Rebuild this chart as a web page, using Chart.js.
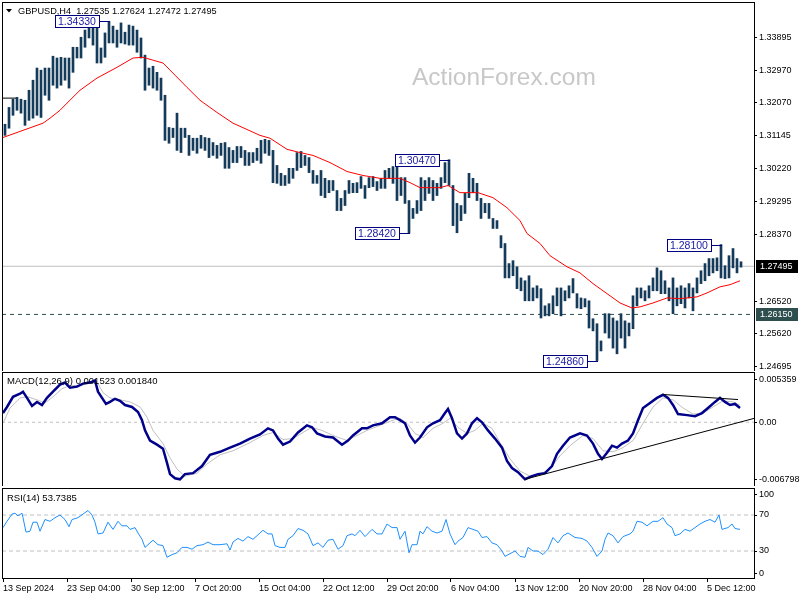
<!DOCTYPE html>
<html>
<head>
<meta charset="utf-8">
<script src="https://cdn.jsdelivr.net/npm/chart.js@4.4.1/dist/chart.umd.min.js"></script>
<style>
html, body { margin: 0; padding: 0; background: #fff; }
#wrap { position: relative; width: 800px; height: 600px; overflow: hidden; }
canvas { position: absolute; left: 0; }
</style>
</head>
<body>
<div id="wrap">
  <canvas id="main" width="800" height="371" style="top:0px"></canvas>
  <canvas id="macd" width="800" height="115" style="top:371px"></canvas>
  <canvas id="rsi" width="800" height="114" style="top:486px"></canvas>
</div>
<script>
/* GBPUSD H4 - price bars (each bar = two H4 bars), high / low */
const barHigh = [
  1.3146,1.3193,1.3216,1.3221,1.3216,1.3213,1.3241,1.3269,1.3303,1.3297,
  1.3303,1.3303,1.3336,1.3331,1.3333,1.3331,1.3331,1.3361,1.3361,1.3389,
  1.3409,1.3431,1.3429,1.3423,1.3359,1.3401,1.3433,1.3420,1.3409,1.3429,
  1.3403,1.3423,1.3420,1.3409,1.3387,1.3339,1.3303,1.3308,1.3291,1.3275,
  1.3227,1.3137,1.3135,1.3177,1.3135,1.3135,1.3115,1.3107,1.3107,1.3115,
  1.3109,1.3107,1.3095,1.3087,1.3093,1.3095,1.3081,1.3073,1.3084,1.3084,
  1.3073,1.3067,1.3067,1.3079,1.3101,1.3104,1.3101,1.3073,1.3031,1.3009,
  1.3003,1.3023,1.3023,1.3067,1.3070,1.3059,1.3053,1.3017,1.3003,1.3017,
  1.2995,1.2989,1.2989,1.2961,1.2939,1.2961,1.2989,1.2981,1.2983,1.3000,
  1.2975,1.2997,1.3000,1.2986,1.2995,1.3017,1.3023,1.3028,1.3045,1.2997,
  1.2997,1.2933,1.2911,1.2933,1.2997,1.2989,1.2997,1.2989,1.2981,1.2997,
  1.3039,1.3047,1.2975,1.2925,1.2919,1.2953,1.3009,1.2995,1.2981,1.2939,
  1.2925,1.2925,1.2883,1.2877,1.2835,1.2813,1.2757,1.2765,1.2748,1.2717,
  1.2709,1.2723,1.2689,1.2695,1.2687,1.2639,1.2645,1.2667,1.2689,1.2689,
  1.2681,1.2695,1.2715,1.2673,1.2661,1.2659,1.2653,1.2603,1.2589,1.2541,
  1.2617,1.2617,1.2605,1.2597,1.2617,1.2597,1.2591,1.2667,1.2689,1.2689,
  1.2681,1.2695,1.2717,1.2745,1.2737,1.2709,1.2689,1.2717,1.2689,1.2695,
  1.2689,1.2701,1.2689,1.2717,1.2737,1.2757,1.2771,1.2771,1.2773,1.2810,
  1.2751,1.2779,1.2799,1.2771,1.2762
];
const barLow = [
  1.3115,1.3135,1.3171,1.3185,1.3177,1.3143,1.3157,1.3163,1.3171,1.3165,
  1.3227,1.3213,1.3255,1.3247,1.3255,1.3269,1.3247,1.3291,1.3331,1.3331,
  1.3361,1.3387,1.3367,1.3317,1.3317,1.3333,1.3373,1.3373,1.3361,1.3373,
  1.3370,1.3367,1.3367,1.3347,1.3331,1.3241,1.3255,1.3247,1.3241,1.3213,
  1.3101,1.3093,1.3109,1.3073,1.3067,1.3109,1.3059,1.3073,1.3065,1.3079,
  1.3073,1.3053,1.3059,1.3051,1.3059,1.3023,1.3023,1.3039,1.3039,1.3053,
  1.3031,1.3031,1.3039,1.3045,1.3037,1.3065,1.3059,1.2983,1.2981,1.2975,
  1.2975,1.2981,1.2995,1.3017,1.3025,1.3031,1.3011,1.2981,1.2981,1.2947,
  1.2941,1.2955,1.2961,1.2905,1.2905,1.2919,1.2953,1.2955,1.2955,1.2967,
  1.2939,1.2969,1.2972,1.2961,1.2967,1.2967,1.2995,1.2981,1.2933,1.2947,
  1.2925,1.2842,1.2883,1.2897,1.2905,1.2933,1.2953,1.2933,1.2947,1.2967,
  1.2983,1.2975,1.2863,1.2843,1.2877,1.2897,1.2941,1.2955,1.2933,1.2883,
  1.2899,1.2883,1.2855,1.2855,1.2801,1.2717,1.2717,1.2723,1.2687,1.2681,
  1.2653,1.2653,1.2653,1.2661,1.2605,1.2611,1.2611,1.2617,1.2639,1.2611,
  1.2653,1.2661,1.2675,1.2633,1.2631,1.2636,1.2577,1.2569,1.2486,1.2513,
  1.2563,1.2549,1.2521,1.2505,1.2549,1.2521,1.2555,1.2575,1.2639,1.2661,
  1.2653,1.2661,1.2681,1.2681,1.2673,1.2673,1.2653,1.2617,1.2639,1.2645,
  1.2633,1.2661,1.2625,1.2675,1.2701,1.2709,1.2723,1.2731,1.2737,1.2717,
  1.2715,1.2717,1.2745,1.2731,1.2747
];

/* moving average (red) */
const maIdx = [0,8.5,20,23.5,28.5,32,38.5,47,57,65,70,75,80,86,92,98.5,107,115,128.5,133.5,
  142,148.5,155,163.5,172,180,188.5,198.5,203.5,208.5,218.5,222.5,228.5,237.5,245,252,258.5,262,
  268.5,273.5,282,288.5,295,302,308.5,314.5,318.5,325,332,338.5,347,352,358.5,363.5,368.5];
const maVal = [1.3109,1.3126,1.3149,1.3163,1.3185,1.3205,1.3241,1.3275,1.3305,1.3331,1.3333,1.3325,
  1.3317,1.3283,1.3249,1.3213,1.3179,1.3149,1.3115,1.3107,1.3076,1.3067,1.3059,1.3039,1.3014,
  1.3003,1.2995,1.2995,1.2983,1.2969,1.2969,1.2975,1.2955,1.2955,1.2941,1.2913,1.2877,1.2841,
  1.2813,1.2779,1.2748,1.2731,1.2701,1.2673,1.2647,1.2633,1.2636,1.2647,1.2661,1.2659,1.2664,
  1.2675,1.2692,1.2698,1.2709];

/* price levels and swing labels */
const lastPrice = 1.27495;
const supportLevel = 1.2615;
const oldLevel = 1.3219;
const markText = ['1.34330', '1.30470', '1.28420', '1.28100', '1.24860'];
const markIdx = [53, 223, 203, 359, 297];
const markPrice = [1.3433, 1.3047, 1.2842, 1.2810, 1.2486];
const priceTicks = [1.33895, 1.32970, 1.32070, 1.31145, 1.30220, 1.29295, 1.28370, 1.26520, 1.25620, 1.24695];
const priceTickText = ['1.33895', '1.32970', '1.32070', '1.31145', '1.30220', '1.29295', '1.28370',
  '1.26520', '1.25620', '1.24695'];

/* MACD(12,26,9) */
const macdIdx = [0,2,5,8.5,10,12,14.5,17,19.5,22,25,28.5,31,33.5,37,40,43.5,46,47.5,49.5,51.5,53.5,
  56,58.5,61,64.5,67.5,69.5,71,73.5,77,80,82,83.5,86,88.5,91,95,99.5,103.5,108.5,113.5,118.5,
  123.5,128.5,132.5,135,137.5,140,143.5,147.5,152,154.5,157,161,165,169.5,172.5,175,179.5,182,
  185,189.5,193.5,196,198.5,201,203.5,206,208.5,212,215,218.5,221,222.5,224.5,227,229.5,232,
  234.5,237,239.5,242.5,246,249.5,252,254.5,257.5,261,264.5,267.5,271,274.5,277,280,283.5,288.5,
  292,295,297.5,299.5,302,304.5,307,309.5,312.5,315,317.5,320,323.5,327,330,332.5,335,337.5,342,
  346,349.5,352.5,356,358.5,361,363.5,366,368.5];
const macdVal = [0.00098,0.00163,0.00271,0.00304,0.00326,0.00260,0.00174,0.00217,0.00184,0.00260,
  0.00326,0.00401,0.00423,0.00369,0.00380,0.00412,0.00423,0.00445,0.00326,0.00260,0.00195,0.00217,
  0.00250,0.00228,0.00184,0.00163,0.00109,0.00022,-0.00087,-0.00195,-0.00239,-0.00282,-0.00434,
  -0.00553,-0.00597,-0.00608,-0.00553,-0.00543,-0.00467,-0.00347,-0.00315,-0.00271,-0.00228,
  -0.00174,-0.00130,-0.00065,-0.00087,-0.00174,-0.00239,-0.00206,-0.00109,-0.00033,-0.00054,
  -0.00119,-0.00152,-0.00163,-0.00239,-0.00195,-0.00141,-0.00065,-0.00065,-0.00033,-0.00011,
  0.00054,0.00054,0.00022,-0.00011,-0.00141,-0.00217,-0.00163,-0.00054,-0.00011,0.00022,0.00098,
  0.00141,0.00043,-0.00119,-0.00174,-0.00119,-0.00011,0.00043,0.00000,-0.00087,-0.00174,-0.00271,
  -0.00412,-0.00488,-0.00532,-0.00608,-0.00575,-0.00553,-0.00543,-0.00467,-0.00336,-0.00250,
  -0.00163,-0.00119,-0.00141,-0.00228,-0.00336,-0.00391,-0.00326,-0.00250,-0.00271,-0.00228,
  -0.00195,-0.00119,0.00022,0.00152,0.00206,0.00260,0.00293,0.00260,0.00184,0.00087,0.00076,
  0.00065,0.00098,0.00152,0.00217,0.00260,0.00217,0.00184,0.00195,0.00152];
const signalIdx = [0,3.5,8.5,12.5,17,21,25,29.5,33.5,38.5,43.5,47.5,50,53.5,58.5,63.5,68.5,72,75,
  80,83.5,87,91,97,102,108.5,115,123.5,130,135,140,145,150,154.5,159.5,165,172,177,182,188.5,195,
  198.5,202,206,210,215,220,223.5,227.5,232,236,240,244.5,248.5,253.5,258.5,263.5,268.5,273.5,
  278.5,283.5,290,295,300,305,310,315,320,325,330,335,340,345,350,355,360,365,368.5];
const signalVal = [-0.00011,0.00152,0.00260,0.00271,0.00239,0.00206,0.00271,0.00358,0.00391,
  0.00391,0.00423,0.00412,0.00315,0.00260,0.00239,0.00217,0.00163,0.00054,-0.00087,-0.00228,
  -0.00380,-0.00499,-0.00575,-0.00543,-0.00445,-0.00347,-0.00304,-0.00217,-0.00141,-0.00109,
  -0.00184,-0.00174,-0.00109,-0.00054,-0.00087,-0.00141,-0.00195,-0.00141,-0.00087,-0.00033,
  0.00022,0.00043,-0.00011,-0.00119,-0.00163,-0.00065,-0.00011,0.00043,-0.00054,-0.00119,-0.00087,
  -0.00011,-0.00065,-0.00217,-0.00391,-0.00521,-0.00575,-0.00553,-0.00499,-0.00358,-0.00250,
  -0.00141,-0.00174,-0.00304,-0.00315,-0.00271,-0.00195,-0.00011,0.00163,0.00260,0.00239,0.00152,
  0.00087,0.00098,0.00163,0.00228,0.00217,0.00184];
const macdMin = -0.006798;
const macdMax = 0.005359;
const trendUpIdx = [261, 375.5];
const trendUpVal = [-0.00608, 0.00041];
const trendDownIdx = [330, 367.5];
const trendDownVal = [0.00296, 0.00242];

/* RSI(14) */
const rsiIdx = [0,2,4.5,6,7.5,9.5,10,11.5,13.5,15,17,18.5,21,23.5,26,28.5,31,33,34.5,37.5,40,42.5,
  44.5,46,47.5,50,52.5,55,57.5,59.5,62,63.5,66,67.5,69.5,71,72.5,75,77.5,80,82,84.5,87,89.5,92,94.5,
  97,100,102.5,105,108.5,112,113.5,115,117.5,120,122.5,125,127.5,130,132.5,134.5,136,138.5,141,
  142.5,145,147.5,150,152.5,155,157.5,160,162.5,165,167.5,170,172,174.5,176,178.5,181,184.5,187,
  189.5,192,194.5,197,198.5,201,203,204.5,207,208.5,210,212,214.5,217,219.5,221.5,223.5,226,227.5,
  230,232.5,235,237.5,239.5,242,244.5,247,249.5,251,253.5,256,258.5,261,262.5,265,267.5,270,272.5,
  275,277.5,280,282.5,286,289.5,292,294.5,297,299.5,301,302.5,305,307.5,310,313.5,315,317,319.5,
  322,325,327.5,330,332,334.5,336,338.5,341,343.5,346,348.5,351,353.5,356,358,359.5,362.5,364.5,
  366,368.5];
const rsiVal = [56,63,71,72,69,72,67,51,52,62,62,52,65,63,67,70,65,57,65,67,71,75,70,62,49,50,62,
  54,63,58,58,54,56,50,43,34,37,42,37,36,23,26,28,34,34,32,36,37,40,37,37,38,31,40,44,41,46,43,48,
  53,49,49,36,34,34,43,47,55,53,49,36,39,34,42,43,32,36,47,49,47,53,46,54,49,49,60,56,56,43,52,28,
  37,37,52,49,57,52,50,52,65,49,37,41,45,56,54,52,45,46,39,37,30,24,27,30,24,23,34,30,30,26,32,45,
  39,47,50,45,44,41,34,24,30,43,50,47,39,46,49,52,63,62,58,63,63,67,60,56,47,49,54,52,56,60,63,65,
  62,70,54,56,60,55,54];
const rsiLevels = [70, 30];

/* time axis */
const dateIdx = [0, 32, 64, 96, 128, 160, 192, 224, 256, 288, 320, 352];
const dateText = ['13 Sep 2024', '23 Sep 04:00', '30 Sep 12:00', '7 Oct 20:00', '15 Oct 04:00',
  '22 Oct 12:00', '29 Oct 20:00', '6 Nov 04:00', '13 Nov 12:00', '20 Nov 20:00', '28 Nov 04:00',
  '5 Dec 12:00'];

const titleText = 'GBPUSD,H4  1.27535 1.27624 1.27472 1.27495';
const macdTitle = 'MACD(12,26,9) 0.001523 0.001840';
const rsiTitle = 'RSI(14) 53.7385';

const X_MIN = -0.5, X_MAX = 375.5;
const FONT = '"Liberation Sans", Arial, sans-serif';

Chart.defaults.font.family = FONT;
Chart.defaults.font.size = 9;
Chart.defaults.color = '#000';

function zip(xs, ys) {
  return xs.map((x, i) => ({ x: x, y: ys[i] }));
}
function flat(v) {
  return [{ x: X_MIN, y: v }, { x: X_MAX, y: v }];
}
function lineSet(data, color, width, dash, order) {
  return { type: 'line', data: data, borderColor: color, borderWidth: width, borderDash: dash || [],
    pointRadius: 0, tension: 0, fill: false, order: order };
}

// right side axis, MT4 look
function rightAxis(min, max, ticks, labelFn) {
  return {
    type: 'linear', position: 'right', min: min, max: max,
    afterFit: s => { s.width = 46; s.paddingTop = 0; s.paddingBottom = 0; },
    afterBuildTicks: s => { s.ticks = ticks.map(v => ({ value: v })); },
    grid: { drawOnChartArea: false, drawTicks: true, tickLength: 3, color: '#000' },
    border: { display: false },
    ticks: { autoSkip: false, padding: 2, callback: labelFn }
  };
}
function hiddenX() {
  return { type: 'linear', min: X_MIN, max: X_MAX, display: false, offset: false };
}

const frame = {
  id: 'frame',
  afterDraw(chart) {
    const a = chart.chartArea, ctx = chart.ctx;
    ctx.save();
    ctx.strokeStyle = '#000';
    ctx.lineWidth = 1;
    ctx.strokeRect(a.left + 0.5, a.top + 0.5, a.right - a.left, a.bottom - a.top);
    ctx.restore();
  }
};

function panelTitle(text, baseline) {
  return {
    id: 'title',
    afterDraw(chart) {
      const ctx = chart.ctx;
      ctx.save();
      ctx.font = '9.5px ' + FONT;
      ctx.fillStyle = '#000';
      ctx.textBaseline = 'alphabetic';
      ctx.fillText(text, 7, baseline);
      ctx.restore();
    }
  };
}

function priceBox(ctx, y, text, bg) {
  ctx.fillStyle = bg;
  ctx.fillRect(756, Math.round(y) - 6, 42, 13);
  ctx.fillStyle = '#fff';
  ctx.textBaseline = 'middle';
  ctx.fillText(text, 760, Math.round(y) + 0.5);
}

const mainExtras = {
  id: 'mainExtras',
  beforeDatasetsDraw(chart) {
    const ctx = chart.ctx;
    ctx.save();
    ctx.font = '24.5px ' + FONT;
    ctx.fillStyle = '#c8c8c8';
    ctx.textBaseline = 'alphabetic';
    ctx.fillText('ActionForex.com', 412, 85);
    ctx.restore();
  },
  afterDraw(chart) {
    const ctx = chart.ctx, xs = chart.scales.x, ys = chart.scales.y;
    ctx.save();
    // title
    ctx.fillStyle = '#000';
    ctx.beginPath();
    ctx.moveTo(6, 9); ctx.lineTo(12, 9); ctx.lineTo(9, 12.5); ctx.closePath();
    ctx.fill();
    ctx.font = '9.2px ' + FONT;
    ctx.textBaseline = 'alphabetic';
    ctx.fillText(titleText, 18, 14);

    // swing labels
    ctx.font = '10.5px ' + FONT;
    ctx.lineWidth = 1;
    for (let i = 0; i < markText.length; i++) {
      const px = Math.round(xs.getPixelForValue(markIdx[i]));
      const py = Math.round(ys.getPixelForValue(markPrice[i]));
      const w = Math.round(ctx.measureText(markText[i]).width) + 6;
      const right = px - 10;
      ctx.fillStyle = '#fff';
      ctx.fillRect(right - w, py - 6, w, 13);
      ctx.strokeStyle = '#000080';
      ctx.strokeRect(right - w + 0.5, py - 5.5, w, 12);
      ctx.beginPath();
      ctx.moveTo(right, py + 0.5);
      ctx.lineTo(px + 1, py + 0.5);
      ctx.stroke();
      ctx.fillStyle = '#2020a8';
      ctx.textBaseline = 'middle';
      ctx.fillText(markText[i], right - w + 3, py + 1);
    }

    // boxes on the price axis
    ctx.font = '9px ' + FONT;
    priceBox(ctx, ys.getPixelForValue(lastPrice), '1.27495', '#000');
    priceBox(ctx, ys.getPixelForValue(supportLevel), '1.26150', '#2f4f4f');
    ctx.restore();
  }
};

/* ---- main price panel ---- */
new Chart(document.getElementById('main'), {
  type: 'bar',
  data: {
    datasets: [
      lineSet(flat(lastPrice), '#c0c0c0', 1, null, 6),
      lineSet(flat(supportLevel), '#2f4f4f', 1, [4, 4], 5),
      lineSet([{ x: X_MIN, y: oldLevel }, { x: 7.5, y: oldLevel }], '#000', 1, null, 4),
      {
        type: 'bar',
        data: barHigh.map((h, i) => ({ x: 1 + 2 * i, y: [barLow[i], h] })),
        backgroundColor: '#143c5a',
        borderWidth: 0,
        barThickness: 2,
        grouped: false,
        order: 2
      },
      lineSet(zip(maIdx, maVal), '#ff0000', 1, null, 1)
    ]
  },
  options: {
    responsive: false, animation: false, devicePixelRatio: 1,
    layout: { autoPadding: false, padding: { left: 2, top: 2, right: 0, bottom: 0 } },
    plugins: { legend: { display: false }, tooltip: { enabled: false } },
    scales: {
      x: hiddenX(),
      y: rightAxis(1.2457, 1.34874, priceTicks, (v, i) => priceTickText[i])
    }
  },
  plugins: [mainExtras, frame]
});

/* ---- MACD panel ---- */
const macdTickPos = [0.00457, 0, -0.00615];
const macdTickText = ['0.005359', '0.00', '-0.006798'];
new Chart(document.getElementById('macd'), {
  type: 'line',
  data: {
    datasets: [
      lineSet(flat(0), '#c0c0c0', 1, [3, 3], 6),
      lineSet(zip(signalIdx, signalVal), '#c0c0c0', 1, null, 4),
      lineSet(zip(macdIdx, macdVal), '#00008b', 2.5, null, 3),
      lineSet(zip(trendUpIdx, trendUpVal), '#000', 1, null, 1),
      lineSet(zip(trendDownIdx, trendDownVal), '#000', 1, null, 1)
    ]
  },
  options: {
    responsive: false, animation: false, devicePixelRatio: 1,
    layout: { autoPadding: false, padding: { left: 2, top: 1, right: 0, bottom: 0 } },
    plugins: { legend: { display: false }, tooltip: { enabled: false } },
    scales: {
      x: hiddenX(),
      y: rightAxis(macdMin, macdMax, macdTickPos, (v, i) => macdTickText[i])
    }
  },
  plugins: [panelTitle(macdTitle, 13), frame]
});

/* ---- RSI panel ---- */
const rsiTickPos = [93.3, 70, 30, 5.2];
const rsiTickText = ['100', '70', '30', '0'];
new Chart(document.getElementById('rsi'), {
  type: 'line',
  data: {
    datasets: [
      lineSet(flat(rsiLevels[0]), '#c0c0c0', 1, [4, 3], 5),
      lineSet(flat(rsiLevels[1]), '#c0c0c0', 1, [4, 3], 5),
      lineSet(zip(rsiIdx, rsiVal), '#1e90ff', 1, null, 1)
    ]
  },
  options: {
    responsive: false, animation: false, devicePixelRatio: 1,
    layout: { autoPadding: false, padding: { left: 2, top: 2, right: 0, bottom: 0 } },
    plugins: { legend: { display: false }, tooltip: { enabled: false } },
    scales: {
      x: {
        type: 'linear', min: X_MIN, max: X_MAX, offset: false,
        afterFit: s => { s.height = 22; s.paddingLeft = 0; s.paddingRight = 0; },
        afterBuildTicks: s => { s.ticks = dateIdx.map(v => ({ value: v })); },
        grid: { drawOnChartArea: false, drawTicks: true, tickLength: 4, color: '#000' },
        border: { display: false },
        ticks: { autoSkip: false, maxRotation: 0, align: 'start', padding: 1,
          callback: (v, i) => dateText[i] }
      },
      y: rightAxis(0, 100, rsiTickPos, (v, i) => rsiTickText[i])
    }
  },
  plugins: [panelTitle(rsiTitle, 15), frame]
});
</script>
</body>
</html>
